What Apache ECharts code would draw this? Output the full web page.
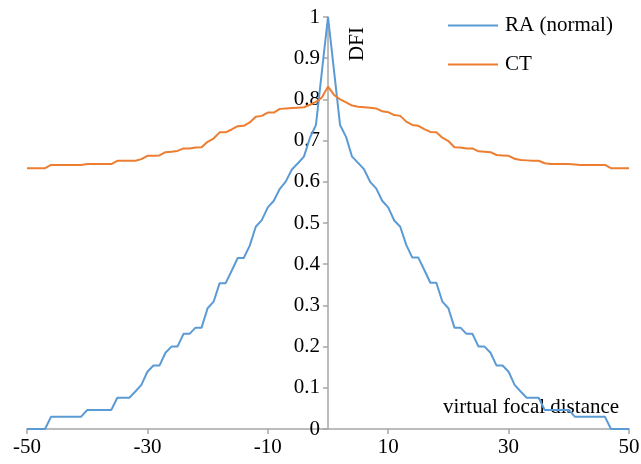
<!DOCTYPE html>
<html>
<head>
<meta charset="utf-8">
<script src="https://cdn.jsdelivr.net/npm/echarts@6/dist/echarts.min.js"></script>
<style>
  html, body { margin: 0; padding: 0; background: #fff; }
  #chart { width: 641px; height: 464px; }
</style>
</head>
<body>
<div id="chart"></div>
<script>
// sampled virtual focal distance
const distance = [
  -50, -49, -48, -47, -46, -45, -44, -43, -42, -41, -40, -39, -38, -37, -36, -35, -34,
  -33, -32, -31, -30, -29, -28, -27, -26, -25, -24, -23, -22, -21, -20, -19, -18,
  -17, -16, -15, -14, -13, -12, -11, -10, -9, -8, -7, -6, -5, -4, -3, -2, -1,
  0, 1, 2, 3, 4, 5, 6, 7, 8, 9, 10, 11, 12, 13, 14, 15, 16, 17,
  18, 19, 20, 21, 22, 23, 24, 25, 26, 27, 28, 29, 30, 31, 32, 33,
  34, 35, 36, 37, 38, 39, 40, 41, 42, 43, 44, 45, 46, 47, 48, 49, 50
];

const raNormal = [
  0, 0, 0, 0, 0.03, 0.03, 0.03, 0.03, 0.03, 0.03, 0.046, 0.046, 0.046, 0.046, 0.046,
  0.076, 0.076, 0.076, 0.091, 0.107, 0.139, 0.154, 0.154, 0.185, 0.2, 0.2, 0.231, 0.231,
  0.246, 0.246, 0.293, 0.309, 0.354, 0.354, 0.384, 0.415, 0.415, 0.445, 0.491, 0.507,
  0.538, 0.554, 0.583, 0.601, 0.63, 0.645, 0.661, 0.707, 0.738, 0.87,
  1,
  0.87, 0.738, 0.709, 0.661, 0.646, 0.63, 0.6, 0.584, 0.554, 0.538, 0.506, 0.491, 0.447,
  0.416, 0.416, 0.386, 0.355, 0.355, 0.309, 0.293, 0.246, 0.246, 0.231, 0.231, 0.2, 0.2,
  0.185, 0.154, 0.154, 0.139, 0.107, 0.091, 0.076, 0.076, 0.076, 0.046, 0.046, 0.046,
  0.046, 0.046, 0.03, 0.03, 0.03, 0.03, 0.03, 0.03, 0, 0, 0, 0
];

const ct = [
  0.633, 0.633, 0.633, 0.633, 0.641, 0.641, 0.641, 0.641, 0.641, 0.641, 0.643, 0.643,
  0.643, 0.643, 0.643, 0.651, 0.651, 0.651, 0.651, 0.655, 0.663, 0.663, 0.664, 0.672,
  0.673, 0.675, 0.681, 0.681, 0.683, 0.684, 0.697, 0.705, 0.72, 0.72, 0.727, 0.735,
  0.736, 0.744, 0.758, 0.76, 0.768, 0.768, 0.777, 0.778, 0.779, 0.78, 0.781, 0.787,
  0.794, 0.805,
  0.831,
  0.811, 0.8, 0.793, 0.785, 0.782, 0.781, 0.78, 0.778, 0.771, 0.769, 0.762, 0.76, 0.746,
  0.738, 0.736, 0.728, 0.721, 0.72, 0.707, 0.699, 0.684, 0.683, 0.681, 0.681, 0.674,
  0.673, 0.672, 0.665, 0.664, 0.663, 0.656, 0.653, 0.652, 0.651, 0.651, 0.645, 0.643,
  0.643, 0.643, 0.643, 0.642, 0.641, 0.641, 0.641, 0.641, 0.641, 0.633, 0.633, 0.633, 0.633
];

const seriesNames = ['RA (normal)', 'CT'];
const seriesColors = ['#5b9bd5', '#ed7d31'];

const font = "'Liberation Serif', 'Times New Roman', serif";
const axisGray = '#a6a6a6';

const gridLeft = 27;
const gridRight = 12;
const chartWidth = 641;
// the y axis sits at distance 0, half way across the plot
const zeroOffset = (chartWidth - gridLeft - gridRight) / 2;

const chart = echarts.init(document.getElementById('chart'));

chart.setOption({
  animation: false,
  grid: {
    left: gridLeft, right: gridRight, top: 17, bottom: 35,
    containLabel: false, outerBoundsMode: 'none'
  },
  legend: {
    orient: 'vertical',
    left: 448,
    top: 15,
    padding: 0,
    icon: 'rect',
    itemWidth: 50,
    itemHeight: 2,
    itemGap: 18,
    textStyle: { fontFamily: font, fontSize: 21, color: '#000', padding: [0, 0, 0, 2] },
    data: seriesNames
  },
  xAxis: {
    type: 'value',
    min: -50,
    max: 50,
    interval: 20,
    splitLine: { show: false },
    axisLine: { lineStyle: { color: axisGray, width: 1.5 } },
    axisTick: { show: true, length: 5, lineStyle: { color: axisGray, width: 1.5 } },
    axisLabel: { fontFamily: font, fontSize: 21, color: '#000', margin: 8 }
  },
  yAxis: {
    type: 'value',
    min: 0,
    max: 1,
    interval: 0.1,
    position: 'left',
    offset: -zeroOffset,
    splitLine: { show: false },
    axisLine: { show: true, onZero: false, lineStyle: { color: axisGray, width: 1.5 } },
    axisTick: { show: true, length: 5, lineStyle: { color: axisGray, width: 1.5 } },
    axisLabel: { fontFamily: font, fontSize: 21, color: '#000', margin: 8 }
  },
  graphic: [
    {
      type: 'text',
      x: 357,
      y: 44,
      rotation: Math.PI / 2,
      style: {
        text: 'DFI', fontFamily: font, fontSize: 21, fill: '#000',
        align: 'center', verticalAlign: 'middle'
      }
    },
    {
      type: 'text',
      x: 443,
      y: 407,
      style: {
        text: 'virtual focal distance', fontFamily: font, fontSize: 21, fill: '#000',
        verticalAlign: 'middle'
      }
    }
  ],
  series: seriesNames.map((name, i) => ({
    name,
    type: 'line',
    symbol: 'none',
    lineStyle: { width: 2, color: seriesColors[i] },
    itemStyle: { color: seriesColors[i] },
    data: distance.map((d, k) => [d, (i === 0 ? raNormal : ct)[k]])
  }))
});
</script>
</body>
</html>
